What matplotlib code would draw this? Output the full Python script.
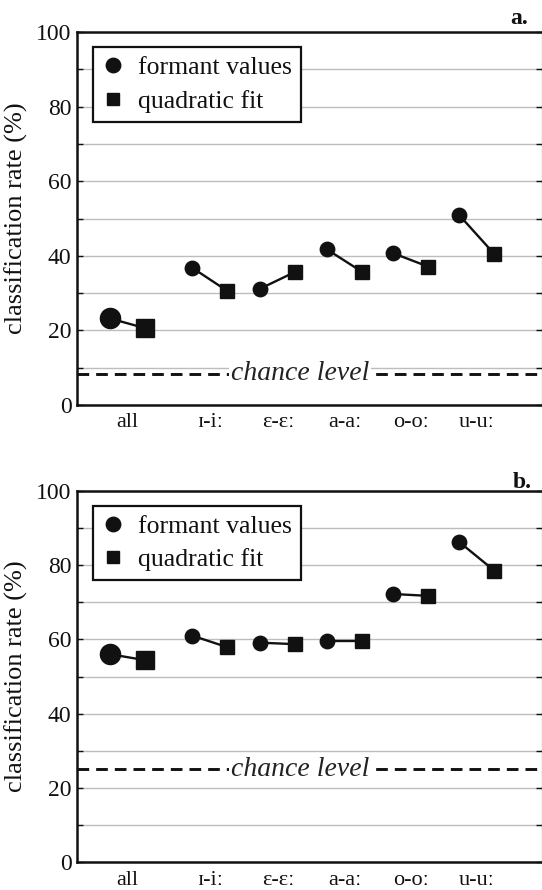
import matplotlib
matplotlib.use("Agg")
import matplotlib.pyplot as plt
from matplotlib.lines import Line2D
from matplotlib.ticker import FixedLocator, FixedFormatter

plt.rcParams['font.family'] = ['Liberation Serif', 'DejaVu Serif']

categories = ["all", "ɪ-iː", "ɛ-ɛː", "a-aː", "o-oː", "u-uː"]
formant_a = [23.2, 36.8, 31.2, 41.7, 40.7, 50.9]
quadratic_a = [20.6, 30.6, 35.7, 35.7, 37.1, 40.5]
chance_a = 8.33
formant_b = [56.0, 61.0, 59.1, 59.6, 72.2, 86.2]
quadratic_b = [54.4, 57.9, 58.7, 59.6, 71.7, 78.5]
chance_b = 25.0
yticks = [0, 10, 20, 30, 40, 50, 60, 70, 80, 90, 100]
ytick_labels = ["0", "", "20", "", "40", "", "60", "", "80", "", "100"]

# layout
positions = [0, 1.23, 2.25, 3.25, 4.24, 5.23]
offset = 0.262

W, H = 542, 890
fig = plt.figure(figsize=(W / 100, H / 100), dpi=100)

def make_panel(rect, formant, quad, chance, label, label_xy):
    ax = fig.add_axes(rect)
    ax.set_xlim(-0.757, 6.2)
    ax.set_ylim(0, 100)
    ax.yaxis.set_major_locator(FixedLocator(yticks))
    ax.yaxis.set_major_formatter(FixedFormatter(ytick_labels))
    ax.tick_params(axis='y', direction='in', length=4, width=1, right=True,
                   labelsize=17, pad=4, colors='#111111')
    ax.set_xticks(positions)
    ax.set_xticklabels(categories)
    ax.tick_params(axis='x', length=0, labelsize=16, pad=6, colors='#111111')
    ax.grid(axis='y', color='#bdbdbd', lw=1.0)
    ax.set_axisbelow(True)
    for s in ['top', 'left', 'bottom']:
        ax.spines[s].set_linewidth(1.8)
        ax.spines[s].set_color('#111111')
    ax.spines['right'].set_linewidth(0.8)
    ax.set_ylabel("classification rate (%)", fontsize=19, labelpad=6, color='#111111')

    for i, (p, f, q) in enumerate(zip(positions, formant, quad)):
        big = (i == 0)
        ax.plot([p - offset, p + offset], [f, q], color='#111111', lw=1.7, zorder=3)
        ax.plot(p - offset, f, marker='o', ms=14.5 if big else 10.4,
                color='#111111', zorder=4, ls='none')
        ax.plot(p + offset, q, marker='s', ms=13.0 if big else 9.8,
                color='#111111', zorder=4, ls='none')

    ax.axhline(chance, color='#111111', lw=2.1, ls=(0, (4.0, 2.4)), zorder=2)
    ax.text(0.48, chance, "chance level", transform=ax.get_yaxis_transform(),
            ha='center', va='center', fontsize=20, style='italic', color='#222222',
            bbox=dict(facecolor='white', edgecolor='none', pad=1.5), zorder=3)

    handles = [Line2D([], [], marker='o', ls='none', color='#111111', ms=10.4),
               Line2D([], [], marker='s', ls='none', color='#111111', ms=9.0)]
    leg = ax.legend(handles, ["formant values", "quadratic fit"], loc='upper left',
                    bbox_to_anchor=(0.034, 0.96), borderaxespad=0, fontsize=18.5,
                    frameon=True, fancybox=False, framealpha=1, edgecolor='#111111',
                    handlelength=0.85, handletextpad=0.55, borderpad=0.35,
                    labelspacing=0.42)
    leg.get_frame().set_linewidth(1.6)
    for t in leg.get_texts():
        t.set_color('#111111')
    fig.text(label_xy[0], label_xy[1], label, fontsize=17, fontweight='bold',
             ha='center', va='center', color='#111111')
    return ax

make_panel([77 / W, 1 - 405 / H, 464.5 / W, 373 / H], formant_a, quadratic_a,
           chance_a, "a.", (519 / W, 1 - 18 / H))
make_panel([77 / W, 1 - 862.3 / H, 464.5 / W, 371.6 / H], formant_b, quadratic_b,
           chance_b, "b.", (522 / W, 1 - 483 / H))

fig.savefig("out.png", dpi=100)
